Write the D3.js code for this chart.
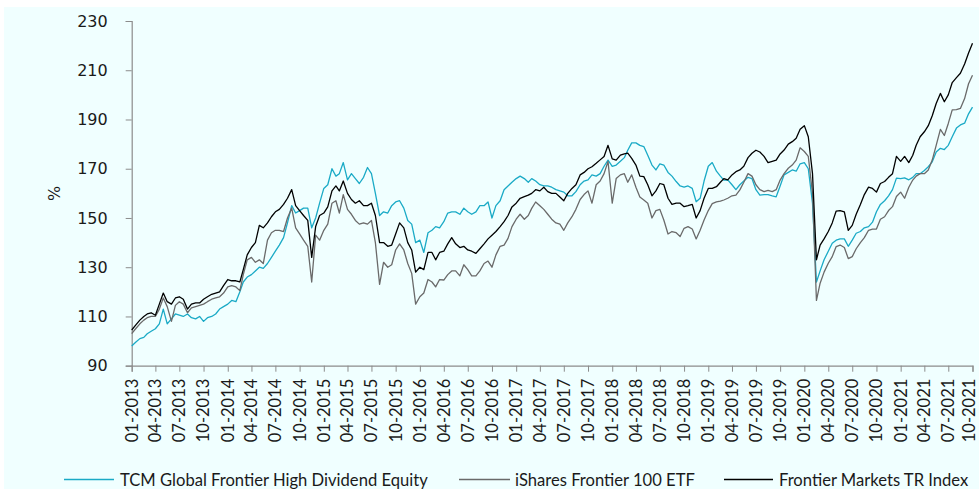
<!DOCTYPE html>
<html><head><meta charset="utf-8">
<script src="https://cdn.jsdelivr.net/npm/d3@7"></script>
<style>html,body{margin:0;padding:0;background:#ffffff;}svg{display:block;}</style>
</head><body>
<svg id="chart" width="979" height="489"></svg>
<script>
// ---- data (half-monthly observations starting 2013-01-01) ----
const seriesNames = ["TCM Global Frontier High Dividend Equity", "iShares Frontier 100 ETF", "Frontier Markets TR Index"];
const startDate = "2013-01-01";
const tcm = [98.0,99.5,101,101.5,103,104,105,107,113,107,109,111,110.5,110,111,109.5,109,110,108,109.5,110,111,113,114,115,116.5,116,120,124,126,127,128.5,130,129.5,131.5,134,136.5,139,142,148,155,152,153,154,
154,146,150,156,162,163.5,170,167,168,172.5,165.5,168,166,164,166.5,170.5,168,160,151,152.5,152,155,156.5,157,154,149,147.5,140,141,136,144,145,146.5,146,148.5,152,152.5,152.5,151.5,154,152.5,151.5,
152.5,155,155,156.5,150,155,157,161.5,163,164.5,166,167,166,164.5,166,165,163.5,163,163,162.5,161.5,161,160.5,159,159,160.7,163.5,165,165.5,167.5,167,168,171,173.5,171,171.5,173,174.5,177.5,180.5,180.5,179.5,
179,175.5,171.5,169.5,172,171.5,168.5,167,164.8,163,162.5,163,162,156.6,158,165,171,172.5,169,167,165.4,165.5,163.5,161.5,163.5,165,166.5,166,161.5,159.3,159.5,159.5,159,158.6,163,167.5,168.5,169.5,169,
172,172.5,170,156,124,128.5,133,136.5,139.7,141,141.5,141.5,138.5,141,143.8,144.5,146,146.5,148.3,152.5,155.5,157,159,161.5,166.2,166,166.3,165.5,166.5,168,168,169.3,170.8,172.8,176.8,178.3,177.8,179.5,183,186.5,187.8,188.5,192.3,195];
const ishares = [103,105,107,108.5,109.5,110,110,113,117.5,114,108,114.5,116,115,111.5,113.5,114,114.5,115,116,117,117.5,118,119.5,122,122.5,122,120.5,127,133,134,132,133,131.5,141,144,145,145,144.5,150,154,146,143.5,141,
138.5,124,143,141,145,147.5,156,157,152,159.5,153.5,151.5,149,147.5,148,147.5,149,140,123,132,130,131,137,139.5,137,131.5,127.5,115,118,119.5,125,124,122,125,124.8,127,128.5,128.5,126.5,131,129,126.5,
126.5,128.5,131.5,132.5,130,135,138.5,139,141.7,146.5,149.5,151.5,149.5,151,153.9,156.5,155,153.5,151.5,149.5,148,147.5,145,148,150.5,153.5,157.5,159.5,161,156,163.5,165,168,173,156,166,167.5,168,164.5,167.5,162.5,158.5,
157.3,156,150,153,153.5,149.2,143.5,144.5,144,142.5,145.8,146.5,145.5,141.5,145,149.2,153,155.8,156.5,156.8,157.3,158,159,159.3,161.4,164.5,168,167,163.5,161.5,160.7,161.2,160.7,161.5,165.4,168,170.2,171.5,173.5,
178.5,177,175,160,116.5,123.5,128,131.6,134.3,138.4,139,138,133.5,134.3,137.5,140,142,145,145.5,145.5,149.5,150.5,153,154.6,158.7,160.5,158,162.5,165.4,167,168,168,169.5,173.5,179.5,186,183.5,188.4,193.9,194,194.5,198.5,204.5,208];
const frontier = [104.5,106.5,108.5,110,111,111.5,110.5,115,119.5,116,115,117.5,118,117,113,115,115.5,115.5,117,118,119,119.5,120,122.5,125,124.5,124.5,124,129,135,138,140,147,146,148,150.5,152.5,153.5,155.5,158,161.5,155,153,151,
149,134,146.5,151,152,154.5,161,163,161,165,160,157.5,156,157,155,155,156,151,140,140,138.5,139,143.5,148,146,140,137,128,130,129,136,136,133,136,136.5,139.5,142,139.5,138,138.5,137,136.5,
135.6,137.5,139.5,141.5,143,144.5,146.5,148.5,151,154.5,156,158,158.7,159.3,160,161.5,161,162.5,160.7,160,160,158.5,157,160,162,163.5,167.5,168.5,170,170.8,172.2,173.6,175,179.5,174,173.5,175.5,176,176.3,174.2,171.5,167,
166.8,163.5,159,161,164,163.5,158,155.5,156,156,154.6,155,155.5,150,153,158,162,162,162.7,164.5,166,165.5,167.5,168.8,169.5,171,174.5,176.3,177.5,176.8,175,172.5,173,173.5,176,177.6,180,181,182.4,
186,187.5,183,168,133,139,141.5,144.5,148,152.8,153,152.5,145,147,151.5,155.5,159.5,162.5,162,160.5,164,164.8,166.5,168,175,173,175,172.5,175.5,179.5,183,185,187.5,191.5,196.5,200.6,197.2,200,205,207,208.8,212.5,217,221];
const yTickValues = [90, 110, 130, 150, 170, 190, 210, 230];
const yLabel = "%";
const xTickFormat = "%m-%Y";
const xStart = "2013-01-01", xEnd = "2021-10-01";

// ---- layout / style ----
const W = 979, H = 489;
const plot = {left: 131.7, right: 972.5, top: 21, bottom: 365.7};
const colors = ["#1aaac6", "#6a6a6a", "#000000"];

const svg = d3.select("#chart");
svg.append("rect").attr("x", 4).attr("y", 7).attr("width", W - 4).attr("height", H - 7).attr("fill", "#f0ffff");

const parse = d3.timeParse("%Y-%m-%d");
const t0 = parse(startDate);
const dates = tcm.map((_, i) => d3.timeDay.offset(d3.timeMonth.offset(t0, Math.floor(i / 2)), i % 2 ? 15 : 0));

const x = d3.scaleTime().domain([parse(xStart), parse(xEnd)]).range([plot.left, plot.right]);
const y = d3.scaleLinear().domain([90, 230]).range([plot.bottom, plot.top]);

// y axis
const yAxis = svg.append("g").attr("transform", `translate(${plot.left},0)`)
  .call(d3.axisLeft(y).tickValues(yTickValues).tickSize(6).tickPadding(18));
yAxis.select(".domain").attr("stroke", "#8c8c8c").attr("stroke-width", 1.2);
yAxis.selectAll(".tick line").attr("stroke", "#8c8c8c");
yAxis.selectAll("text").attr("font-family", "DejaVu Sans").attr("font-size", 16).attr("fill", "#1a1a1a");

// x axis
const xTicks = d3.timeMonth.every(3).range(parse(xStart), d3.timeDay.offset(parse(xEnd), 1));
const xAxis = svg.append("g").attr("transform", `translate(0,${plot.bottom})`)
  .call(d3.axisBottom(x).tickValues(xTicks).tickFormat(d3.timeFormat(xTickFormat)).tickSize(6).tickPadding(7));
xAxis.select(".domain").attr("stroke", "#8c8c8c").attr("stroke-width", 1.2);
xAxis.selectAll(".tick line").attr("stroke", "#8c8c8c");
const nTicks = xTicks.length;
xAxis.selectAll("text")
  .attr("font-family", "Lato").attr("font-size", 16.5).attr("fill", "#1a1a1a")
  .attr("text-anchor", "end").attr("transform", "rotate(-90)")
  .attr("x", -13).attr("y", 0)
  .attr("dy", (d, i) => i === nTicks - 1 ? "0.12em" : "0.33em");

// y label
svg.append("text").attr("transform", "translate(54.5,193.5) rotate(-90)")
  .attr("text-anchor", "middle").attr("dy", "0.35em")
  .attr("font-family", "DejaVu Sans").attr("font-size", 16).attr("fill", "#1a1a1a").text(yLabel);

// lines
const line = d3.line().x((d, i) => x(dates[i])).y(d => y(d));
[tcm, ishares, frontier].forEach((s, k) => {
  svg.append("path").datum(s).attr("fill", "none").attr("stroke", colors[k])
    .attr("stroke-width", 1.3).attr("stroke-linejoin", "round").attr("d", line);
});

// legend
const legendItems = [
  {x1: 64, x2: 114, tx: 120},
  {x1: 459, x2: 510, tx: 515},
  {x1: 724, x2: 773, tx: 779}
];
legendItems.forEach((it, k) => {
  svg.append("line").attr("x1", it.x1).attr("x2", it.x2).attr("y1", 479.5).attr("y2", 479.5)
    .attr("stroke", colors[k]).attr("stroke-width", 1.3);
  svg.append("text").attr("x", it.tx).attr("y", 485.5)
    .attr("font-family", "Lato").attr("font-size", 16.6).attr("fill", "#1a1a1a").text(seriesNames[k]);
});
</script>
</body></html>
